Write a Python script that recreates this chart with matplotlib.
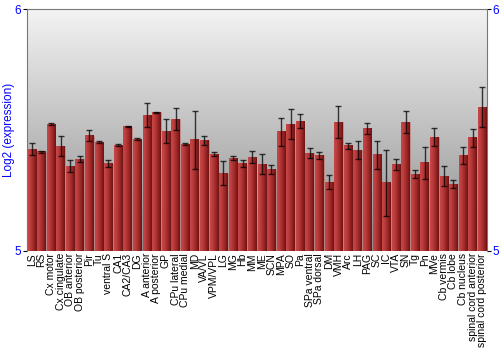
"""Regional expression bar chart (log2) with error bars."""

import matplotlib
matplotlib.use('Agg')
import matplotlib.pyplot as plt
import numpy as np
from matplotlib.colors import LinearSegmentedColormap

regions = [
    'LS', 'RS', 'Cx motor', 'Cx cingulate', 'OB anterior', 'OB posterior',
    'Pir', 'Tu', 'ventral S', 'CA1', 'CA2/CA3', 'DG', 'A anterior',
    'A posterior', 'GP', 'CPu lateral', 'CPu medial', 'MD', 'VA/VL',
    'VPM/VPL', 'LG', 'MG', 'Hb', 'MM', 'ME', 'SCN', 'MPA', 'SO', 'Pa',
    'SPa ventral', 'SPa dorsal', 'DM', 'VMH', 'Arc', 'LH', 'PAG', 'SC', 'IC',
    'VTA', 'SN', 'Tg', 'Pn', 'MVe', 'Cb vermis', 'Cb lobe', 'Cb nucleus',
    'spinal cord anterior', 'spinal cord posterior',
]
expression = [
    5.421, 5.410, 5.525, 5.434, 5.351, 5.380, 5.476, 5.449, 5.361, 5.438,
    5.514, 5.461, 5.562, 5.573, 5.496, 5.545, 5.442, 5.459, 5.457, 5.401,
    5.322, 5.384, 5.361, 5.388, 5.358, 5.336, 5.493, 5.525, 5.537, 5.404,
    5.395, 5.285, 5.533, 5.435, 5.417, 5.505, 5.398, 5.282, 5.357, 5.533,
    5.317, 5.365, 5.471, 5.310, 5.277, 5.393, 5.468, 5.595,
]
errors = [
    0.026, 0.003, 0.006, 0.041, 0.026, 0.011, 0.023, 0.004, 0.014, 0.003,
    0.003, 0.004, 0.051, 0.003, 0.048, 0.046, 0.003, 0.120, 0.019, 0.010,
    0.050, 0.010, 0.013, 0.025, 0.041, 0.019, 0.058, 0.064, 0.030, 0.020,
    0.013, 0.030, 0.067, 0.012, 0.037, 0.023, 0.058, 0.137, 0.024, 0.047,
    0.017, 0.066, 0.038, 0.042, 0.016, 0.035, 0.038, 0.084,
]
y_ticks = [5, 6]

plt.rcParams['font.family'] = ['Liberation Sans', 'DejaVu Sans']

fig = plt.figure(figsize=(5, 3.5), dpi=100)
ax = fig.add_axes([0.054, 0.283, 0.920, 0.691])

x = np.arange(len(regions))
ax.set_xlim(-0.5, len(regions) - 0.5)
ax.set_ylim(5, 6)

# background: vertical gray gradient
bg = LinearSegmentedColormap.from_list('bg', ['#8c8c8c', '#f3f3f3'])
ax.imshow(np.linspace(0, 1, 256).reshape(-1, 1), cmap=bg, aspect='auto',
          extent=[-0.5, len(regions) - 0.5, 5, 6], origin='lower', zorder=0)

bars = ax.bar(x, np.array(expression) - 5, bottom=5, width=0.88,
              color='#b03030', edgecolor='#c8a0a0', linewidth=0.4, zorder=2)

# horizontal shading inside each bar
red = LinearSegmentedColormap.from_list(
    'red', ['#c84848', '#b83a3a', '#9a2626', '#6e1212'])
grad = np.linspace(0, 1, 64).reshape(1, -1)
for b in bars:
    x0, w, h = b.get_x(), b.get_width(), b.get_height()
    ax.imshow(grad, cmap=red, aspect='auto', zorder=3,
              extent=[x0, x0 + w, b.get_y(), b.get_y() + h])

ax.errorbar(x, expression, yerr=errors, fmt='none', ecolor='black',
            elinewidth=1.0, capsize=2, capthick=1.0, alpha=0.75, zorder=4)

ax.set_xticks(x)
ax.set_xticklabels(regions, rotation=90, fontsize=7.5)
ax.tick_params(axis='x', length=0, pad=1.5)

ax.set_yticks(y_ticks)
ax.set_yticklabels([str(t) for t in y_ticks])
ax.tick_params(axis='y', colors='black', labelcolor='blue', labelsize=8.5,
               length=3, width=0.8, left=True, right=True,
               labelleft=True, labelright=True, pad=1)
ax.set_ylabel('Log2 (expression)', color='blue', fontsize=8.5)
ax.yaxis.set_label_coords(-0.027, 0.5)

for side in ['left', 'right', 'top']:
    ax.spines[side].set_color('#777777')
    ax.spines[side].set_linewidth(0.8)
ax.spines['bottom'].set_visible(False)

fig.savefig('out.png', dpi=100)
